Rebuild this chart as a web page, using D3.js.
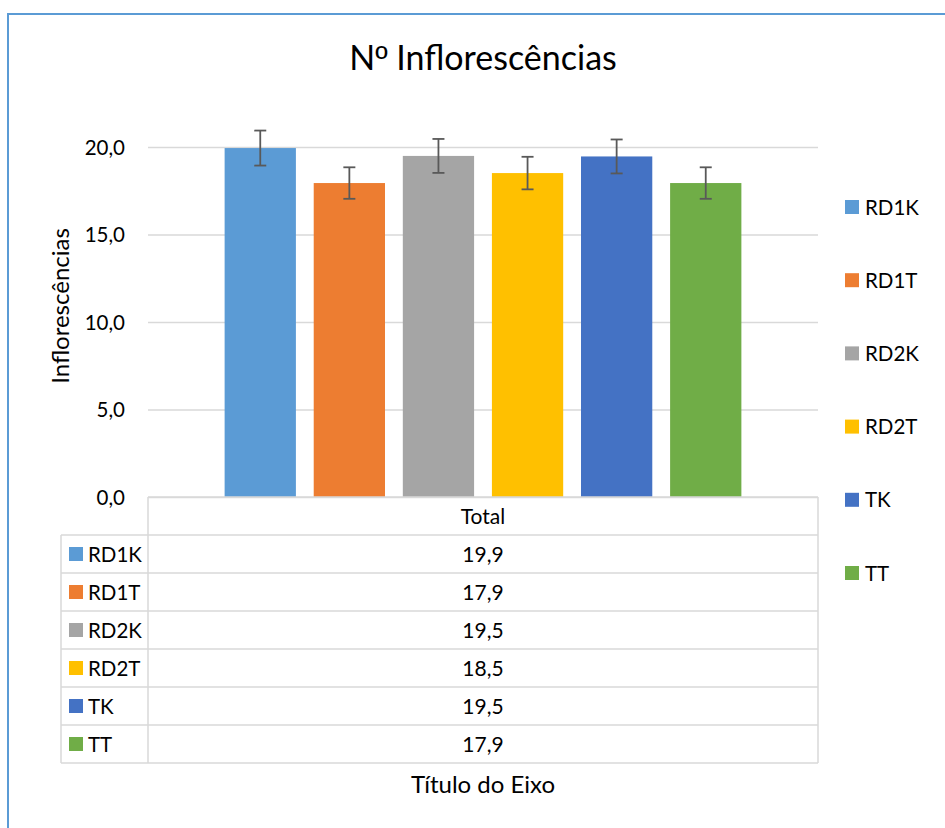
<!DOCTYPE html>
<html><head><meta charset="utf-8">
<script src="https://cdn.jsdelivr.net/npm/d3@7"></script>
<style>body{margin:0;background:#fff;} text{font-family:Lato,"Open Sans",sans-serif;fill:#000;}</style>
</head><body>
<svg id="c" width="945" height="828"></svg>
<script>
const categories = ["RD1K","RD1T","RD2K","RD2T","TK","TT"];
const values = [19.94, 17.94, 19.49, 18.51, 19.46, 17.94];
const errors = [1.0, 0.9, 0.97, 0.93, 0.97, 0.9];
const colors = ["#5b9bd5","#ed7d31","#a5a5a5","#ffc000","#4472c4","#70ad47"];
const yTicks = [0,5,10,15,20];
const groupLabel = "Total";

const svg = d3.select("#c");
svg.append("rect").attr("x",8).attr("y",14).attr("width",960).attr("height",900)
  .attr("fill","none").attr("stroke","#5b9bd5").attr("stroke-width",2);

const L=148, R=818, T=147, B=497;
const y = d3.scaleLinear().domain([0,20]).range([B,T]);
const x = d3.scaleBand().domain(categories).range([L,R]).paddingInner(0.2).paddingOuter(0.86);

const title = svg.append("text").attr("x",483).attr("y",70).attr("text-anchor","middle").attr("font-size",34);
title.append("tspan").text("N");
title.append("tspan").style("font-family","'Liberation Sans',Arial,sans-serif").text("º");
title.append("tspan").text(" Inflorescências");

// gridlines
const yAxis = d3.axisLeft(y).tickValues(yTicks).tickSize(-(R-L)).tickFormat(d=>d3.format(".1f")(d).replace(".",","));
const g = svg.append("g").attr("transform",`translate(${L},0)`).call(yAxis);
g.select(".domain").remove();
g.selectAll(".tick line").attr("stroke","#d9d9d9").attr("stroke-width",1.5);
g.selectAll(".tick text").attr("x",-23).attr("dy","0.35em").attr("font-size",20.5).attr("fill","#000").style("font-family","Lato,'Open Sans',sans-serif");

svg.append("g").selectAll("rect").data(categories).join("rect")
  .attr("x",d=>x(d)).attr("width",x.bandwidth())
  .attr("y",(d,i)=>y(values[i])).attr("height",(d,i)=>B-y(values[i]))
  .attr("fill",(d,i)=>colors[i]);

const eb = svg.append("g").attr("stroke","#595959").attr("stroke-width",1.8);
categories.forEach((c,i)=>{
  const cx = x(c)+x.bandwidth()/2, y1=y(values[i]+errors[i]), y2=y(values[i]-errors[i]);
  eb.append("line").attr("x1",cx).attr("x2",cx).attr("y1",y1).attr("y2",y2);
  eb.append("line").attr("x1",cx-6).attr("x2",cx+6).attr("y1",y1).attr("y2",y1);
  eb.append("line").attr("x1",cx-6).attr("x2",cx+6).attr("y1",y2).attr("y2",y2);
});

svg.append("text").attr("transform","translate(69,306) rotate(-90)").attr("text-anchor","middle").attr("font-size",24).text("Inflorescências");

// data table
const rowH = 38, tL = 61, cMid = (L+R)/2;
const tg = svg.append("g").attr("stroke","#d9d9d9").attr("stroke-width",1.5).attr("fill","none");
const rows = d3.scaleBand().domain(categories).range([B+rowH, B+rowH*7]);
tg.append("line").attr("x1",L).attr("x2",R).attr("y1",B).attr("y2",B);
tg.append("line").attr("x1",L).attr("x2",L).attr("y1",B).attr("y2",B+rowH*7);
tg.append("line").attr("x1",R).attr("x2",R).attr("y1",B).attr("y2",B+rowH*7);
tg.append("line").attr("x1",tL).attr("x2",tL).attr("y1",B+rowH).attr("y2",B+rowH*7);
for(let k=1;k<=7;k++){
  tg.append("line").attr("x1",tL).attr("x2",R).attr("y1",B+rowH*k).attr("y2",B+rowH*k);
}
svg.append("text").attr("x",cMid).attr("y",B+rowH/2+7.5).attr("text-anchor","middle").attr("font-size",21).text(groupLabel);
categories.forEach((c,i)=>{
  const ry = rows(c)+rowH/2;
  svg.append("rect").attr("x",69).attr("y",ry-7).attr("width",14).attr("height",14).attr("fill",colors[i]);
  svg.append("text").attr("x",88).attr("y",ry+7.5).attr("font-size",20.5).text(c);
  svg.append("text").attr("x",cMid).attr("y",ry+7.5).attr("text-anchor","middle").attr("font-size",21)
    .text(values[i].toFixed(1).replace(".",","));
});

svg.append("text").attr("x",cMid).attr("y",793).attr("text-anchor","middle").attr("font-size",24).text("Título do Eixo");

// legend
const ly = d3.scalePoint().domain(categories).range([207,573]);
categories.forEach((c,i)=>{
  svg.append("rect").attr("x",845).attr("y",ly(c)-7).attr("width",14).attr("height",14).attr("fill",colors[i]);
  svg.append("text").attr("x",865).attr("y",ly(c)+7.5).attr("font-size",20.5).text(c);
});
</script>
</body></html>
